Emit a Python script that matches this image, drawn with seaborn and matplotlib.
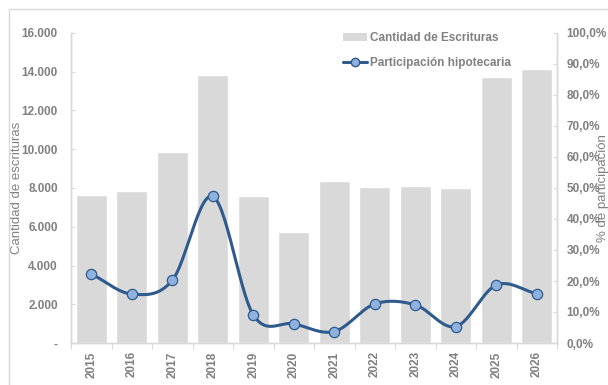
import numpy as np
import pandas as pd
import matplotlib
matplotlib.use("Agg")
import matplotlib.pyplot as plt
import matplotlib.ticker as mticker
from matplotlib.lines import Line2D
from matplotlib.patches import Patch, Rectangle
import seaborn as sns

# Data
years = ["2015", "2016", "2017", "2018", "2019", "2020",
         "2021", "2022", "2023", "2024", "2025", "2026"]
escrituras = [7640, 7820, 9870, 13830, 7570, 5710,
              8380, 8030, 8120, 8020, 13730, 14160]
participacion = [22.3, 15.8, 20.2, 47.3, 9.1, 6.2,
                 3.7, 12.6, 12.3, 5.3, 18.7, 15.9]

bar_label = "Cantidad de Escrituras"
line_label = "Participación hipotecaria"
left_label = "Cantidad de escrituras"
right_label = "% de participación"

BAR_COLOR = "#D9D9D9"
LINE_COLOR = "#2E5A8E"
MARKER_FACE = "#8EB1DE"
TEXT_COLOR = "#808080"
AXIS_COLOR = "#D9D9D9"

sns.set_theme(style="white")
plt.rcParams["font.family"] = ["Liberation Sans", "DejaVu Sans"]


def catmull_rom(xs, ys, n=30):
    """Smooth curve through the points (Catmull-Rom, uniform)."""
    px = np.concatenate([[2 * xs[0] - xs[1]], xs, [2 * xs[-1] - xs[-2]]])
    py = np.concatenate([[2 * ys[0] - ys[1]], ys, [2 * ys[-1] - ys[-2]]])
    out_x, out_y = [], []
    t = np.linspace(0, 1, n, endpoint=False)
    for i in range(1, len(px) - 2):
        for P, out in ((px, out_x), (py, out_y)):
            p0, p1, p2, p3 = P[i - 1], P[i], P[i + 1], P[i + 2]
            out.extend(0.5 * ((2 * p1) + (-p0 + p2) * t
                              + (2 * p0 - 5 * p1 + 4 * p2 - p3) * t ** 2
                              + (-p0 + 3 * p1 - 3 * p2 + p3) * t ** 3))
    out_x.append(xs[-1])
    out_y.append(ys[-1])
    return np.array(out_x), np.array(out_y)


df = pd.DataFrame({"year": years, "escrituras": escrituras,
                   "participacion": participacion})

fig = plt.figure(figsize=(6.08, 3.85), dpi=100)
ax = fig.add_axes([71 / 608, 1 - 343 / 385, (557 - 71) / 608, (343 - 33) / 385])

# outer chart frame
fig.patches.append(Rectangle((9 / 608, -0.1), 1.2, 1 - 9 / 385 + 0.1,
                             transform=fig.transFigure, fill=False,
                             edgecolor=AXIS_COLOR, linewidth=1.0, zorder=0))

sns.barplot(data=df, x="year", y="escrituras", color=BAR_COLOR,
            saturation=1, width=0.76, ax=ax, zorder=2)
ax.set_ylim(0, 16000)
ax.set_xlim(-0.5, len(years) - 0.5)
ax.yaxis.set_major_locator(mticker.MultipleLocator(2000))


def fmt_thousands(v, _):
    if v == 0:
        return "-"
    return f"{int(v):,}".replace(",", ".")


ax.yaxis.set_major_formatter(mticker.FuncFormatter(fmt_thousands))

ax2 = ax.twinx()
ax2.set_ylim(0, 100)
ax2.yaxis.set_major_locator(mticker.MultipleLocator(10))
ax2.yaxis.set_major_formatter(
    mticker.FuncFormatter(lambda v, _: f"{v:.1f}%".replace(".", ",")))

xpos = np.arange(len(years), dtype=float)
sx, sy = catmull_rom(xpos, np.array(participacion, dtype=float))
sns.lineplot(x=sx, y=sy, ax=ax2, color=LINE_COLOR, linewidth=2.2,
             sort=False, estimator=None)
sns.scatterplot(x=xpos, y=participacion, ax=ax2, s=55, color=MARKER_FACE,
                edgecolor=LINE_COLOR, linewidth=0.9, zorder=5)

# spines and ticks
for a in (ax, ax2):
    a.spines["top"].set_visible(False)
    for side in ("left", "right", "bottom"):
        a.spines[side].set_color(AXIS_COLOR)
        a.spines[side].set_linewidth(1.0)

tick_font = dict(fontsize=8.5, fontweight="bold", color=TEXT_COLOR)
ax.tick_params(axis="y", direction="in", length=3, width=0.8,
               color=AXIS_COLOR, pad=9.5, labelsize=8.5, labelcolor=TEXT_COLOR)
ax2.tick_params(axis="y", direction="in", length=3, width=0.8,
                color=AXIS_COLOR, pad=7, labelsize=8.5, labelcolor=TEXT_COLOR)
for lab in ax.get_yticklabels() + ax2.get_yticklabels():
    lab.set_fontweight("bold")

ax.set_xticks(xpos)
ax.set_xticklabels(years, rotation=90, **tick_font)
ax.tick_params(axis="x", which="major", length=0, pad=6)
ax.set_xticks(np.arange(-0.5, len(years), 1.0), minor=True)
ax.tick_params(axis="x", which="minor", direction="out", length=4,
               width=0.8, color=AXIS_COLOR, bottom=True)
ax2.tick_params(axis="x", which="both", bottom=False)

ax.set_xlabel("")
ax.set_ylabel(left_label, fontsize=9.5, color=TEXT_COLOR)
ax.yaxis.set_label_coords((23 - 71) / 486, 0.5)
ax2.set_ylabel(right_label, fontsize=9.5, color=TEXT_COLOR)
ax2.yaxis.set_label_coords((597 - 71) / 486, 0.5)

handles = [
    Patch(facecolor=BAR_COLOR, edgecolor="none", label=bar_label),
    Line2D([0], [0], color=LINE_COLOR, linewidth=2.2, marker="o",
           markersize=6, markerfacecolor=MARKER_FACE,
           markeredgecolor=LINE_COLOR, label=line_label),
]
leg = ax2.legend(handles=handles, loc="upper left",
                 bbox_to_anchor=(343 / 608, 1 - 32 / 385),
                 bbox_transform=fig.transFigure, frameon=False,
                 borderpad=0, borderaxespad=0, handlelength=2.0,
                 handletextpad=0.25, labelspacing=1.1,
                 prop={"size": 8.5, "weight": "bold"})
for t in leg.get_texts():
    t.set_color(TEXT_COLOR)

fig.savefig("out.png", dpi=100)
